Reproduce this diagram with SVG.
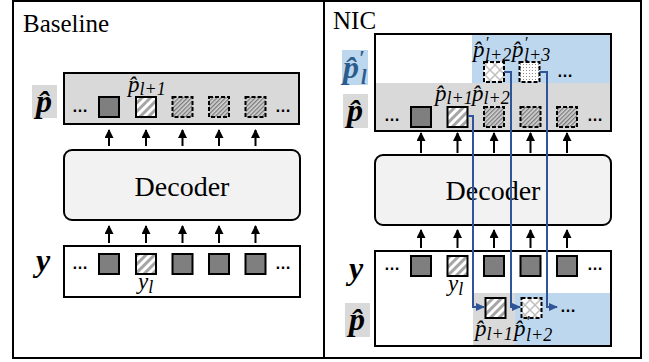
<svg xmlns="http://www.w3.org/2000/svg" width="649" height="362" viewBox="0 0 649 362">
<style>
.panel{fill:#fff;stroke:#000;stroke-width:2}
.box{stroke:#000;stroke-width:2}
.dec{fill:#f2f2f2;stroke:#000;stroke-width:2}
.title{font-family:"Liberation Serif",serif;font-size:25px;fill:#000}
.dectxt{font-family:"Liberation Serif",serif;font-size:28px;fill:#000;text-anchor:middle}
.sq{stroke:#000;stroke-width:2}
.dark{fill:#7f7f7f}
.hl{fill:url(#hatchL)}
.hd{fill:url(#hatchD);stroke-dasharray:4 2}
.cr{fill:url(#cross);stroke-dasharray:4 2}
.dt{fill:url(#dots);stroke-dasharray:4 2}
.ell{font-family:"Liberation Sans",sans-serif;font-weight:bold;font-size:16px;fill:#000}
.m{font-family:"Liberation Serif",serif;font-style:italic;font-size:23px;fill:#000}
.sub{font-size:18px}
.sup{font-size:16px}
.big{font-family:"Liberation Serif",serif;font-style:italic;font-weight:bold;font-size:32px;fill:#000}
.arr{stroke:#000;stroke-width:2;fill:none;marker-end:url(#ah)}
.blue{stroke:#2f5597;stroke-width:2;fill:none;marker-end:url(#bh)}
</style>
<defs>
<pattern id="hatchL" patternUnits="userSpaceOnUse" width="6" height="6" patternTransform="rotate(45)">
<rect width="6" height="6" fill="#fff"/><rect width="3" height="6" fill="#a6a6a6"/>
</pattern>
<pattern id="hatchD" patternUnits="userSpaceOnUse" width="3" height="3" patternTransform="rotate(45)">
<rect width="3" height="3" fill="#d4d4d4"/><rect width="1.3" height="3" fill="#7a7a7a"/>
</pattern>
<pattern id="cross" patternUnits="userSpaceOnUse" width="10" height="10">
<rect width="10" height="10" fill="#fff"/><path d="M0,0L10,10M10,0L0,10" stroke="#bfbfbf" stroke-width="1.5"/>
</pattern>
<pattern id="dots" patternUnits="userSpaceOnUse" width="3" height="3">
<rect width="3" height="3" fill="#fff"/><rect x="1" y="1" width="1" height="1" fill="#8c8c8c"/>
</pattern>
<marker id="ah" markerUnits="userSpaceOnUse" markerWidth="9" markerHeight="9" viewBox="0 0 9 9" refX="8" refY="4.5" orient="auto">
<path d="M0,0L9,4.5L0,9z" fill="#000"/>
</marker>
<marker id="bh" markerUnits="userSpaceOnUse" markerWidth="9" markerHeight="9" viewBox="0 0 9 9" refX="8" refY="4.5" orient="auto">
<path d="M0,0.5L9,4.5L0,8.5z" fill="#2f5597"/>
</marker>
</defs>

<!-- Panels -->
<g id="panel-baseline">
<rect class="panel" x="13" y="1" width="311" height="357"/>
<text class="title" x="23" y="32">Baseline</text>
</g>
<g id="panel-nic">
<rect class="panel" x="324" y="1" width="317" height="357"/>
<text class="title" x="333" y="29">NIC</text>
</g>

<!-- Baseline: p-hat row -->
<g id="b-phat">
<rect x="32" y="85" width="25" height="33" fill="#d9d9d9"/>
<text class="big" x="36" y="112">p&#x302;</text>
<rect class="box" x="64" y="73" width="235" height="51" fill="#d9d9d9"/>
<text class="ell" x="72" y="112">…</text>
<rect class="sq dark" x="99" y="97" width="20" height="20"/>
<rect class="sq hl" x="136" y="97" width="20" height="20"/>
<rect class="sq hd" x="172.5" y="97" width="20" height="20"/>
<rect class="sq hd" x="209" y="97" width="20" height="20"/>
<rect class="sq hd" x="245.5" y="97" width="20" height="20"/>
<text class="ell" x="275" y="112">…</text>
<text class="m" x="128" y="92">p&#x302;<tspan class="sub" dy="3">l+1</tspan></text>
</g>

<g id="b-decoder">
<rect class="dec" x="64" y="150" width="236" height="70" rx="8"/>
<text class="dectxt" x="182" y="196">Decoder</text>
</g>

<g id="b-y">
<text class="big" x="36" y="271">y</text>
<rect class="box" x="64" y="246" width="236" height="51" fill="#fff"/>
<text class="ell" x="72" y="269">…</text>
<rect class="sq dark" x="99" y="254" width="20" height="20"/>
<rect class="sq hl" x="136" y="254" width="20" height="20"/>
<rect class="sq dark" x="172.5" y="254" width="20" height="20"/>
<rect class="sq dark" x="209" y="254" width="20" height="20"/>
<rect class="sq dark" x="245.5" y="254" width="20" height="20"/>
<text class="ell" x="275" y="269">…</text>
<text class="m" x="138" y="289">y<tspan class="sub" dy="4">l</tspan></text>
</g>

<!-- NIC -->
<g id="n-top">
<rect x="375" y="34" width="97" height="49" fill="#fff"/>
<rect x="472" y="34" width="139" height="49" fill="#bdd7ee"/>
<rect x="375" y="83" width="236" height="48" fill="#d9d9d9"/>
<rect class="box" x="375" y="34" width="236" height="97" fill="none"/>
<rect x="342" y="50" width="26" height="35" fill="#bdd7ee"/>
<text class="big" x="343" y="78" style="fill:#2b5c8a">p&#x302;<tspan font-size="20" x="359" y="65">′</tspan><tspan font-size="20" x="361" y="84">l</tspan></text>
<rect x="343" y="94" width="25" height="34" fill="#d9d9d9"/>
<text class="big" x="347" y="121">p&#x302;</text>
<text class="ell" x="384" y="121">…</text>
<rect class="sq dark" x="411" y="107" width="20" height="20"/>
<rect class="sq hl" x="447.5" y="107" width="20" height="20"/>
<rect class="sq hd" x="484" y="107" width="20" height="20"/>
<rect class="sq hd" x="520.5" y="107" width="20" height="20"/>
<rect class="sq hd" x="557" y="107" width="20" height="20"/>
<text class="ell" x="587" y="121">…</text>
<text class="m" x="435" y="101">p&#x302;<tspan class="sub" dy="3">l+1</tspan></text>
<text class="m" x="472" y="101">p&#x302;<tspan class="sub" dy="3">l+2</tspan></text>
<rect class="sq cr" x="484" y="62" width="20" height="20"/>
<rect class="sq dt" x="519.5" y="62" width="20" height="20"/>
<text class="ell" x="557" y="77">…</text>
<text class="m" x="473" y="57">p&#x302;<tspan class="sup" x="485" y="48">′</tspan><tspan class="sub" x="485" y="61">l+2</tspan></text>
<text class="m" x="512" y="57">p&#x302;<tspan class="sup" x="524" y="48">′</tspan><tspan class="sub" x="524" y="61">l+3</tspan></text>
</g>

<g id="n-decoder">
<rect class="dec" x="375" y="155" width="236" height="70" rx="8"/>
<text class="dectxt" x="493" y="200">Decoder</text>
</g>

<g id="n-y">
<rect x="473" y="293" width="42" height="53" fill="#d9d9d9"/>
<rect x="515" y="293" width="96" height="53" fill="#bdd7ee"/>
<rect class="box" x="375" y="251" width="236" height="95" fill="none"/>
<text class="big" x="349" y="279">y</text>
<rect x="345" y="303" width="25" height="34" fill="#d9d9d9"/>
<text class="big" x="349" y="330">p&#x302;</text>
<text class="ell" x="384" y="270">…</text>
<rect class="sq dark" x="411" y="256" width="20" height="20"/>
<rect class="sq hl" x="447.5" y="256" width="20" height="20"/>
<rect class="sq dark" x="484" y="256" width="20" height="20"/>
<rect class="sq dark" x="520.5" y="256" width="20" height="20"/>
<rect class="sq dark" x="557" y="256" width="20" height="20"/>
<text class="ell" x="587" y="270">…</text>
<text class="m" x="448" y="291">y<tspan class="sub" dy="4">l</tspan></text>
<rect class="sq hl" x="485.5" y="298" width="20" height="20"/>
<rect class="sq cr" x="521.5" y="298" width="20" height="20"/>
<text class="ell" x="560" y="312">…</text>
<text class="m" x="475" y="336">p&#x302;<tspan class="sub" dy="4">l+1</tspan></text>
<text class="m" x="514" y="336">p&#x302;<tspan class="sup" x="526" y="327">′</tspan><tspan class="sub" x="526" y="341">l+2</tspan></text>
</g>

<g id="connectors">
<path class="arr" d="M109,146V130"/>
<path class="arr" d="M146,146V130"/>
<path class="arr" d="M182.5,146V130"/>
<path class="arr" d="M219,146V130"/>
<path class="arr" d="M255.5,146V130"/>
<path class="arr" d="M109,243V226"/>
<path class="arr" d="M146,243V226"/>
<path class="arr" d="M182.5,243V226"/>
<path class="arr" d="M219,243V226"/>
<path class="arr" d="M255.5,243V226"/>
<path class="arr" d="M421,153V133"/>
<path class="arr" d="M457.5,153V133"/>
<path class="arr" d="M494,153V133"/>
<path class="arr" d="M530.5,153V133"/>
<path class="arr" d="M567,153V133"/>
<path class="arr" d="M421,248V230"/>
<path class="arr" d="M457.5,248V230"/>
<path class="arr" d="M494,248V230"/>
<path class="arr" d="M530.5,248V230"/>
<path class="arr" d="M567,248V230"/>
<path class="blue" d="M468,116H473V307H484"/>
<path class="blue" d="M504,72H511V307H520"/>
<path class="blue" d="M539.5,72H547V307H557"/>
</g>
</svg>
